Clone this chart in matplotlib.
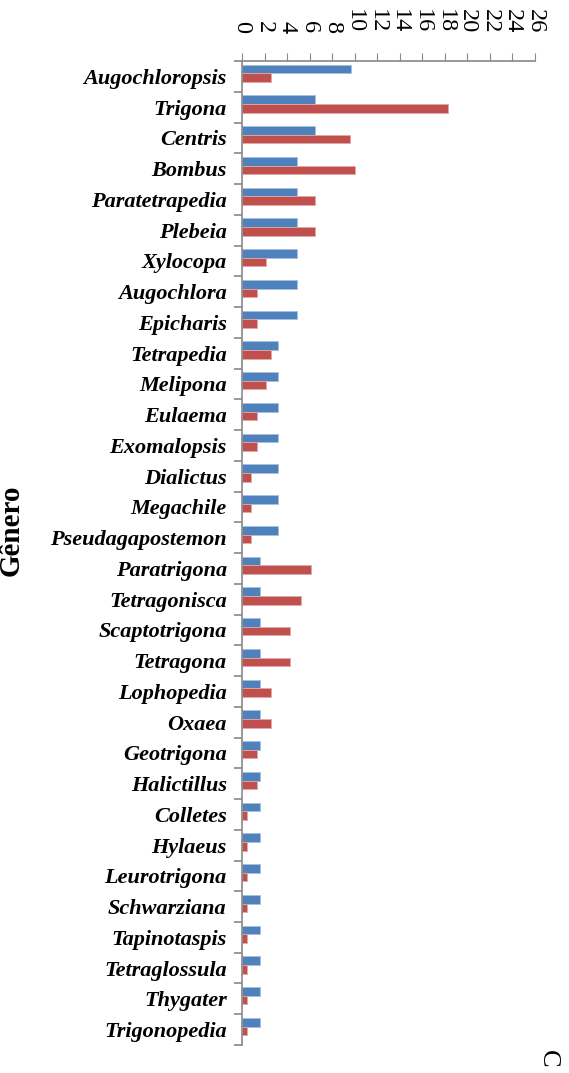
import numpy as np
import matplotlib.pyplot as plt

generos = ['Augochloropsis', 'Trigona', 'Centris', 'Bombus', 'Paratetrapedia',
           'Plebeia', 'Xylocopa', 'Augochlora', 'Epicharis', 'Tetrapedia',
           'Melipona', 'Eulaema', 'Exomalopsis', 'Dialictus', 'Megachile',
           'Pseudagapostemon', 'Paratrigona', 'Tetragonisca', 'Scaptotrigona',
           'Tetragona', 'Lophopedia', 'Oxaea', 'Geotrigona', 'Halictillus',
           'Colletes', 'Hylaeus', 'Leurotrigona', 'Schwarziana', 'Tapinotaspis',
           'Tetraglossula', 'Thygater', 'Trigonopedia']

azul = [9.7, 6.45, 6.45, 4.84, 4.84, 4.84, 4.84, 4.84, 4.84, 3.23,
        3.23, 3.23, 3.23, 3.23, 3.23, 3.23, 1.61, 1.61, 1.61, 1.61,
        1.61, 1.61, 1.61, 1.61, 1.61, 1.61, 1.61, 1.61, 1.61, 1.61,
        1.61, 1.61]

vermelho = [2.6, 18.3, 9.6, 10.0, 6.5, 6.5, 2.1, 1.3, 1.3, 2.6,
            2.1, 1.3, 1.3, 0.8, 0.8, 0.8, 6.1, 5.2, 4.3, 4.3,
            2.6, 2.6, 1.3, 1.3, 0.4, 0.4, 0.4, 0.4, 0.4, 0.4,
            0.4, 0.4]

xticks = list(range(0, 27, 2))

fig = plt.figure(figsize=(5.69, 10.73), dpi=100)
ax = fig.add_axes([0.4253, 0.0261, 0.515, 0.917])

y = np.arange(len(generos))
h = 0.28
ax.barh(y - 0.1 - h / 2, azul, height=h, color='#4F81BD', edgecolor='#A7C0DE', linewidth=0.6)
ax.barh(y - 0.1 + h / 2, vermelho, height=h, color='#C0504D', edgecolor='#E0A8A6', linewidth=0.6)

ax.set_xlim(0, 26)
ax.set_ylim(len(generos) - 0.5, -0.5)

ax.xaxis.tick_top()
ax.set_xticks(xticks)
ax.set_xticklabels([str(v) for v in xticks], rotation=-90, family='Liberation Serif', fontsize=17.5)
ax.tick_params(axis='x', direction='out', length=6, color='#888888', pad=14)

ax.set_yticks(y)
ax.set_yticklabels(generos, family='Liberation Serif', fontsize=16,
                   fontweight='bold', fontstyle='italic')
ax.tick_params(axis='y', which='major', length=0, pad=11)
ax.set_yticks(np.arange(len(generos) + 1) - 0.5, minor=True)
ax.tick_params(axis='y', which='minor', direction='out', length=6, width=1.2, color='#888888')

for s in ['right', 'bottom']:
    ax.spines[s].set_visible(False)
for s in ['left', 'top']:
    ax.spines[s].set_color('#888888')
    ax.spines[s].set_linewidth(1.2)

fig.text(0.02, 0.506, 'Gênero', rotation=90, family='Liberation Serif',
         fontsize=21, fontweight='bold', va='center', ha='center')
fig.text(0.963, 0.013, 'C', rotation=-90, family='Liberation Serif',
         fontsize=19, va='center', ha='center')

fig.savefig('out.png', dpi=100)
